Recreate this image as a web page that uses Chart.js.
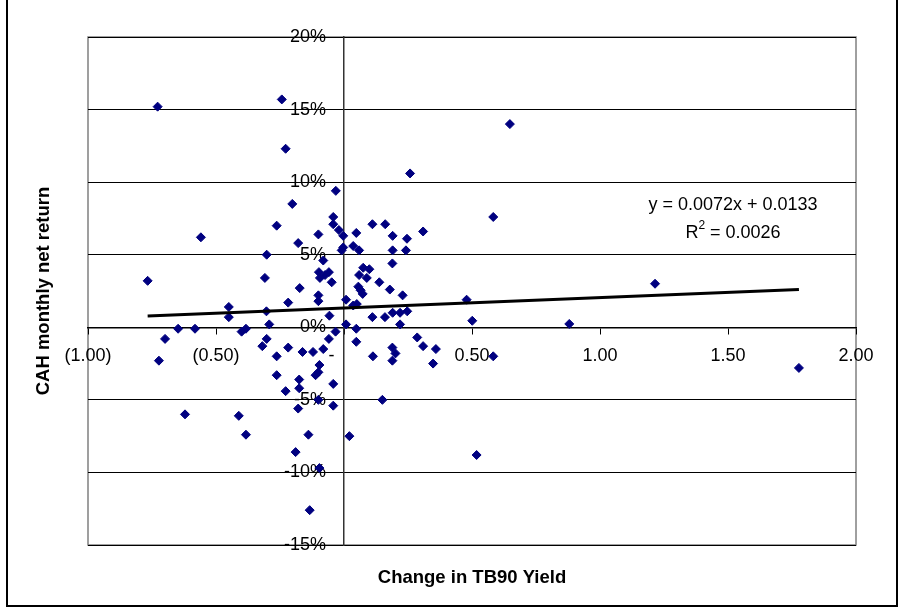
<!DOCTYPE html>
<html>
<head>
<meta charset="utf-8">
<script src="https://cdn.jsdelivr.net/npm/chart.js@4/dist/chart.umd.min.js"></script>
<style>
  html, body { margin: 0; padding: 0; background: #fff; }
  #wrap { width: 901px; height: 608px; position: relative; }
</style>
</head>
<body>
<div id="wrap"><canvas id="c" width="901" height="608"></canvas></div>
<script>
// ---- Data ----
const tb90Change = [
  -0.728, -0.243, -0.228, 0.648, 0.258, -0.032, -0.202, -0.042, 0.583, -0.263,
  -0.042, -0.020, -0.003, 0.048, -0.100, 0.111, 0.161, 0.190, 0.246, 0.309,
  -0.559, -0.179, -0.302, -0.003, -0.009, 0.036, 0.059, 0.190, 0.242, -0.081,
  0.189, 0.075, 0.099, -0.767, -0.309, -0.098, -0.059, -0.094, -0.074, 0.059,
  0.089, -0.048, 0.138, 0.056, 0.065, 0.073, 0.179, -0.173, 0.229, -0.100,
  -0.100, -0.218, 0.008, 0.050, 0.036, 0.479, -0.450, -0.450, -0.303, -0.292,
  -0.057, 0.111, 0.160, 0.190, 0.219, 0.247, 0.219, 0.008, 0.501, 0.880,
  1.215, -0.648, -0.582, -0.699, -0.723, -0.400, -0.383, -0.302, -0.319, -0.263,
  -0.218, -0.162, -0.121, -0.081, -0.059, -0.033, 0.048, 0.048, 0.113, 0.286,
  0.309, 0.359, 0.189, 0.201, 0.189, 0.348, 0.583, -0.096, -0.100, -0.111,
  -0.263, -0.175, -0.042, -0.228, -0.175, -0.100, -0.042, -0.179, 0.150, -0.621,
  -0.411, -0.383, -0.139, 0.021, -0.189, 0.518, -0.096, -0.134, 1.777
];
const cahReturn = [
  0.152, 0.157, 0.123, 0.140, 0.106, 0.094, 0.085, 0.076, 0.076, 0.070,
  0.071, 0.067, 0.063, 0.065, 0.064, 0.071, 0.071, 0.063, 0.061, 0.066,
  0.062, 0.058, 0.050, 0.055, 0.053, 0.056, 0.053, 0.053, 0.053, 0.046,
  0.044, 0.041, 0.040, 0.032, 0.034, 0.038, 0.038, 0.034, 0.036, 0.036,
  0.034, 0.031, 0.031, 0.028, 0.0255, 0.023, 0.026, 0.027, 0.022, 0.022,
  0.018, 0.017, 0.019, 0.016, 0.015, 0.019, 0.014, 0.007, 0.011, 0.002,
  0.008, 0.007, 0.007, 0.010, 0.010, 0.011, 0.002, 0.002, 0.0045, 0.0023,
  0.030, -0.001, -0.001, -0.008, -0.023, -0.003, -0.001, -0.008, -0.013, -0.020,
  -0.014, -0.017, -0.017, -0.015, -0.008, -0.003, -0.001, -0.010, -0.020, -0.007,
  -0.013, -0.015, -0.014, -0.018, -0.023, -0.025, -0.020, -0.026, -0.031, -0.033,
  -0.033, -0.036, -0.039, -0.044, -0.042, -0.050, -0.054, -0.056, -0.050, -0.060,
  -0.061, -0.074, -0.074, -0.075, -0.086, -0.088, -0.097, -0.126, -0.028
];
const trendSlope = 0.0072;
const trendIntercept = 0.0133;
const trendR2 = 0.0026;

const xTickValues = [-1, -0.5, 0, 0.5, 1, 1.5, 2];
const xTickLabels = ['(1.00)', '(0.50)', '-     ', '0.50', '1.00', '1.50', '2.00'];
const yTickValues = [-0.15, -0.10, -0.05, 0, 0.05, 0.10, 0.15, 0.20];
const yTickLabels = ['-15%', '-10%', '-5%', '0%', '5%', '10%', '15%', '20%'];

const xTitle = 'Change in TB90 Yield';
const yTitle = 'CAH monthly net return';
const eqLine1 = 'y = ' + trendSlope.toFixed(4) + 'x + ' + trendIntercept.toFixed(4);
const eqLine2 = ' = ' + trendR2.toFixed(4);

// ---- Build chart ----
const points = tb90Change.map((x, i) => ({ x: x, y: cahReturn[i] }));
const xMin = Math.min(...tb90Change), xMax = Math.max(...tb90Change);
const trendPts = [
  { x: xMin, y: trendSlope * xMin + trendIntercept },
  { x: xMax, y: trendSlope * xMax + trendIntercept }
];

const FONT = '"Liberation Sans", Arial, sans-serif';
const Y_LABEL_GAP = '   \u200A\u200A'; // keeps y labels clear of the centred axis

function labelFor(values, labels, v) {
  for (let i = 0; i < values.length; i++) {
    if (Math.abs(values[i] - v) < 1e-9) return labels[i];
  }
  return '';
}

const framePlugin = {
  id: 'frame',
  beforeDraw(chart) {
    const ctx = chart.ctx;
    const a = chart.chartArea;
    ctx.save();
    ctx.fillStyle = '#fff';
    ctx.fillRect(0, 0, chart.width, chart.height);
    // outer border (top edge lies outside the picture)
    ctx.strokeStyle = '#000';
    ctx.lineWidth = 2;
    ctx.strokeRect(7, -2, 890, 608);
    // plot area border
    ctx.strokeStyle = '#808080';
    ctx.lineWidth = 1.5;
    ctx.strokeRect(a.left, a.top, a.right - a.left, a.bottom - a.top);
    ctx.restore();
  },
  afterDraw(chart) {
    const ctx = chart.ctx;
    const a = chart.chartArea;
    ctx.save();
    ctx.fillStyle = '#000';
    ctx.font = 'bold 18.5px ' + FONT;
    ctx.textAlign = 'center';
    ctx.textBaseline = 'middle';
    ctx.fillText(xTitle, (a.left + a.right) / 2, 578);
    ctx.translate(44, (a.top + a.bottom) / 2);
    ctx.rotate(-Math.PI / 2);
    ctx.fillText(yTitle, 0, 0);
    ctx.restore();

    // trendline equation label
    ctx.save();
    ctx.fillStyle = '#000';
    ctx.font = '18px ' + FONT;
    ctx.textBaseline = 'middle';
    ctx.textAlign = 'center';
    const cx = 733;
    ctx.fillText(eqLine1, cx, 205);
    const w1 = ctx.measureText('R').width;
    const wRest = ctx.measureText(eqLine2).width;
    ctx.font = '12px ' + FONT;
    const wSup = ctx.measureText('2').width;
    const total = w1 + wSup + wRest;
    const sx = cx - total / 2;
    ctx.textAlign = 'left';
    ctx.font = '18px ' + FONT;
    ctx.fillText('R', sx, 233);
    ctx.font = '12px ' + FONT;
    ctx.fillText('2', sx + w1, 226);
    ctx.font = '18px ' + FONT;
    ctx.fillText(eqLine2, sx + w1 + wSup, 233);
    ctx.restore();
  }
};

new Chart(document.getElementById('c'), {
  type: 'scatter',
  data: {
    datasets: [
      {
        label: 'Trend',
        type: 'line',
        data: trendPts,
        borderColor: '#000',
        borderWidth: 3,
        pointRadius: 0,
        fill: false,
        tension: 0
      },
      {
        label: 'CAH',
        data: points,
        pointStyle: 'rectRot',
        pointRadius: 4.5,
        pointHoverRadius: 4.5,
        backgroundColor: '#000080',
        borderColor: '#000080',
        borderWidth: 1
      }
    ]
  },
  options: {
    responsive: false,
    animation: false,
    devicePixelRatio: 1,
    layout: { padding: { left: 88, right: 45, top: 37, bottom: 63 } },
    plugins: { legend: { display: false }, tooltip: { enabled: false } },
    scales: {
      x: {
        type: 'linear',
        position: { y: 0 },
        min: -1, max: 2,
        afterBuildTicks: (s) => { s.ticks = xTickValues.map(v => ({ value: v })); },
        ticks: {
          autoSkip: false,
          maxRotation: 0,
          padding: 12,
          color: '#000',
          font: { family: FONT, size: 18 },
          callback: (v) => labelFor(xTickValues, xTickLabels, v)
        },
        grid: { drawOnChartArea: false, drawTicks: true, tickLength: 6, tickColor: '#000' },
        border: { display: true, color: '#000', width: 1.5 }
      },
      y: {
        type: 'linear',
        position: { x: 0 },
        min: -0.15, max: 0.2,
        afterBuildTicks: (s) => { s.ticks = yTickValues.map(v => ({ value: v })); },
        ticks: {
          autoSkip: false,
          padding: 12,
          color: '#000',
          font: { family: FONT, size: 18 },
          callback: (v) => labelFor(yTickValues, yTickLabels, v) + Y_LABEL_GAP
        },
        grid: { color: '#000', lineWidth: 1, drawTicks: true, tickLength: 6, tickColor: '#000' },
        border: { display: true, color: '#333', width: 1.5 }
      }
    }
  },
  plugins: [framePlugin]
});
</script>
</body>
</html>
